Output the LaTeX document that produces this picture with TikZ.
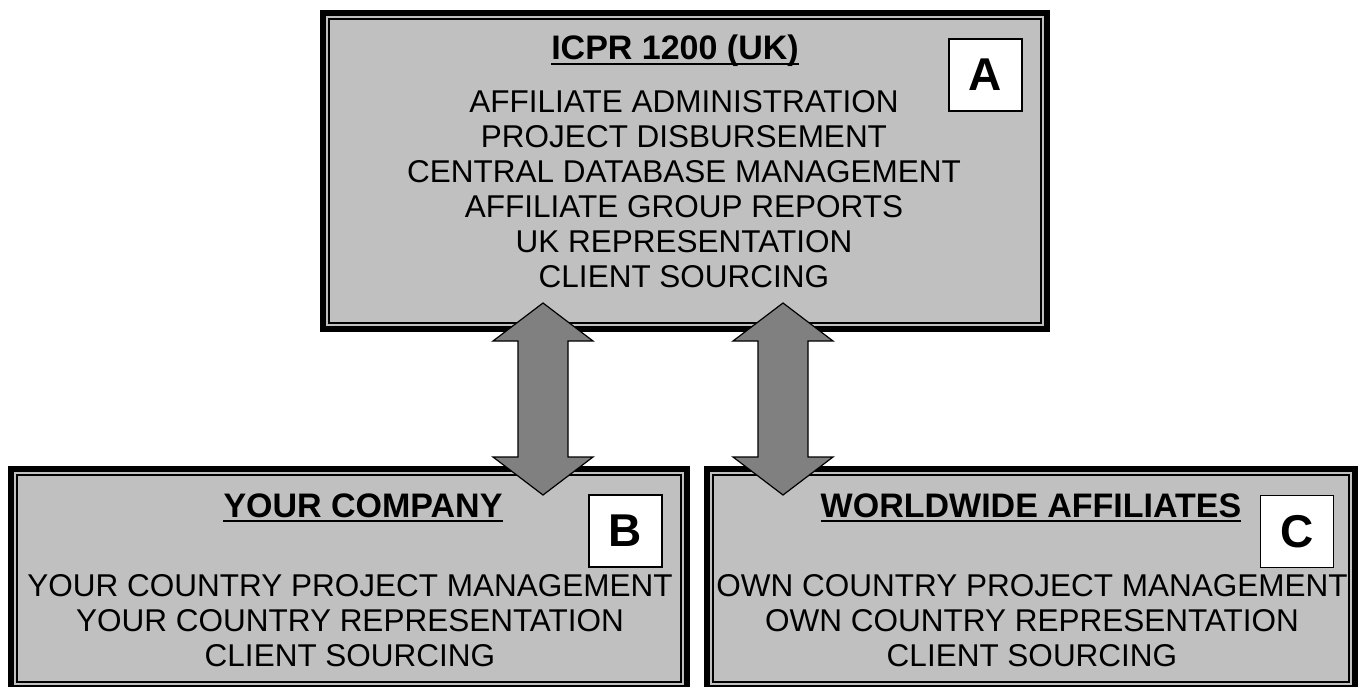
\documentclass[tikz,border=0pt]{standalone}
\usepackage{fontspec}
\setmainfont{Liberation Sans}
\usetikzlibrary{calc,positioning}
\definecolor{panelgray}{HTML}{C0C0C0}
\definecolor{arrowgray}{HTML}{808080}
\tikzset{
  panel/.style={rectangle, draw=black, fill=panelgray, line width=6pt, inner sep=0pt, outer sep=0pt},
  tag/.style={rectangle, draw=black, fill=white, line width=1.3pt, minimum width=73pt, minimum height=72pt, inner sep=0pt, font=\fontsize{46}{46}\selectfont\bfseries},
  heading/.style={font=\fontsize{34}{38}\selectfont\bfseries, inner sep=0pt, anchor=base},
  duties/.style={font=\fontsize{31.5}{35}\selectfont, align=center, inner sep=0pt},
  headrule/.style={line width=2.5pt},
  bigarrow/.style={draw=black, fill=arrowgray, line width=1.2pt, line join=miter}
}
% thin line inside the heavy border
\newcommand\innerframe[1]{\draw[line width=1.5pt] ([shift={(6,6)}]#1.north west) rectangle ([shift={(-6,-6)}]#1.south east);}
\begin{document}
\begin{tikzpicture}[x=1pt, y=-1pt]
  \useasboundingbox (0,0) rectangle (1362,687);
  \clip (0,0) rectangle (1362,687);
  % Panels
  \node[panel, minimum width=724pt, minimum height=316pt] (icpr) at (685,171) {};
  \node[panel, minimum width=676pt, minimum height=219pt] (yours) at (349,578.5) {};
  \node[panel, minimum width=648pt, minimum height=219pt] (world) at (1031,578.5) {};
  \foreach \p in {icpr, yours, world} {\innerframe{\p}}
  % Letter tags
  \node[tag] (taga) at (985.5,75) {A};
  \node[tag] (tagb) at (625.5,531) {B};
  \node[tag] (tagc) at (1297,531.5) {C};
  % Headings
  \node[heading] (icprhead) at (675,60) {ICPR 1200 (UK)};
  \node[heading] (yourshead) at (363,517) {YOUR COMPANY};
  \node[heading] (worldhead) at (1031,517) {WORLDWIDE AFFILIATES};
  \foreach \h in {icprhead, yourshead, worldhead}
    \draw[headrule] ([yshift=-4pt]\h.base west) -- ([yshift=-4pt]\h.base east);
  % Duties
  \node[duties] (icprlist) at (684,189.5) {AFFILIATE ADMINISTRATION\\PROJECT DISBURSEMENT\\CENTRAL DATABASE MANAGEMENT\\AFFILIATE GROUP REPORTS\\UK REPRESENTATION\\CLIENT SOURCING};
  \node[duties] (yourslist) at (350,620.5) {YOUR COUNTRY PROJECT MANAGEMENT\\YOUR COUNTRY REPRESENTATION\\CLIENT SOURCING};
  \node[duties] (worldlist) at (1032,620.5) {OWN COUNTRY PROJECT MANAGEMENT\\OWN COUNTRY REPRESENTATION\\CLIENT SOURCING};
  % Two-way links
  \coordinate (t1) at ($(icpr.south)+(-142,-26)$);
  \coordinate (b1) at ($(yours.north)+(194,26)$);
  \coordinate (t2) at ($(icpr.south)+(98,-26)$);
  \coordinate (b2) at ($(world.north)+(-248,26)$);
  \foreach \t/\b in {t1/b1, t2/b2}
    \draw[bigarrow] (\t) -- ++(50,38) -- ++(-25,0) -- ($(\b)+(25,-38)$) -- ++(25,0) -- (\b)
      -- ++(-50,-38) -- ++(25,0) -- ($(\t)+(-25,38)$) -- ++(-25,0) -- cycle;
\end{tikzpicture}
\end{document}
